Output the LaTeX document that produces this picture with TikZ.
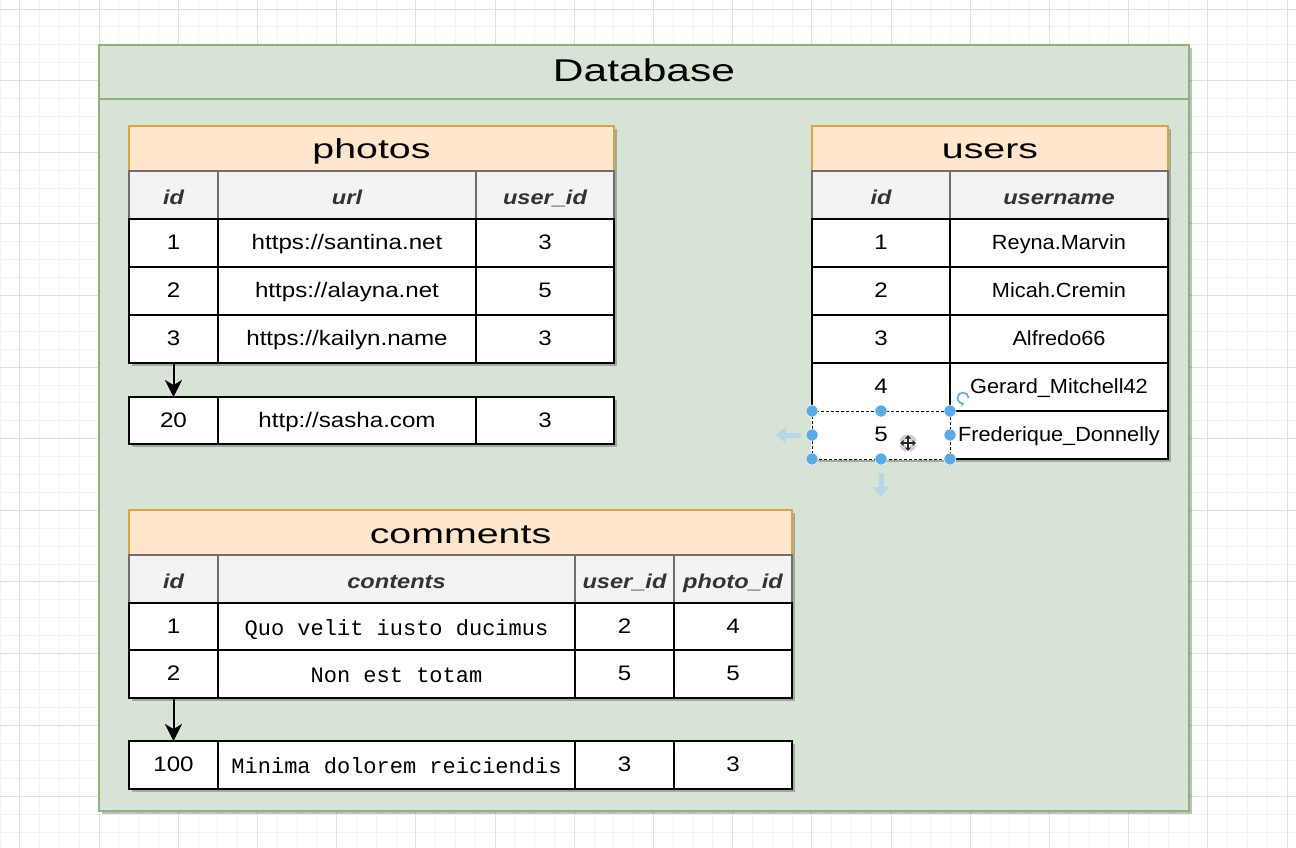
\documentclass[tikz,border=0pt]{standalone}
\usepackage{fontspec}
\setmainfont{Liberation Sans}
\newfontfamily\monof{Liberation Mono}
\usetikzlibrary{arrows.meta}
\definecolor{gridmin}{HTML}{F2F2F2}
\definecolor{gridmaj}{HTML}{E0E0E0}
\definecolor{dbfill}{HTML}{D7E4D5}
\definecolor{dbline}{HTML}{8DB37A}
\definecolor{ttlfill}{HTML}{FFE6CC}
\definecolor{ttlline}{HTML}{D9A441}
\definecolor{hdrfill}{HTML}{F3F3F3}
\definecolor{hdrline}{HTML}{6E6E6E}
\definecolor{selblue}{HTML}{5AAAE6}
\definecolor{paleblue}{HTML}{B9D5E8}
\newcommand\DBT[1]{{\fontsize{31.5}{36}\selectfont\scalebox{1.35}[1]{#1}}}
\newcommand\TT[1]{{\fontsize{27.5}{32}\selectfont\scalebox{1.43}[1]{#1}}}
\newcommand\HD[1]{{\fontsize{20}{24}\selectfont\bfseries\itshape\scalebox{1.18}[1]{#1}}}
\newcommand\DT[1]{{\fontsize{21}{24}\selectfont\scalebox{1.15}[1]{#1}}}
\newcommand\DU[1]{{\fontsize{20.5}{24}\selectfont\scalebox{1.06}[1]{#1}}}
\newcommand\MT[1]{{\monof\fontsize{22}{26}\selectfont #1}}
\newcommand\cellbox[7]{\node[#6, anchor=north west, minimum width={(#4)-(#2)}, minimum height={(#5)-(#3)}] (#1) at (#2,#3) {#7};}
\newcommand\shadowbox[4]{\fill[shad] (#1+3,#2+3) rectangle (#3+3,#4+3);}
\tikzset{
  tbl/.style={rectangle, inner sep=0pt, outer sep=0pt, text depth=0pt},
  dbbox/.style={tbl, draw=dbline, fill=dbfill, line width=1.8pt},
  ttl/.style={tbl, draw=ttlline, fill=ttlfill, line width=1.5pt, text height=21pt},
  hdr/.style={tbl, draw=hdrline, fill=hdrfill, line width=1.5pt, text=black!80, text height=18.6pt},
  dat/.style={tbl, draw=black, fill=white, line width=1.8pt, text height=13pt},
  datm/.style={dat, text height=17pt},
  shad/.style={fill=black, opacity=0.25},
  conn/.style={draw=black, line width=2pt, -{Stealth[length=17pt,width=17pt,inset=5pt]}},
  gmin/.style={draw=gridmin, line width=0.8pt},
  gmaj/.style={draw=gridmaj, line width=0.9pt},
  handle/.style={circle, fill=selblue, draw=white, line width=0.5pt, minimum size=12pt, inner sep=0pt},
  pale/.style={draw=paleblue, line width=5pt, -{Triangle[length=10pt,width=16pt]}}
}
\begin{document}
\begin{tikzpicture}[x=1pt,y=-1pt]
\useasboundingbox (0,0) rectangle (1296,848);
\fill[white] (0,0) rectangle (1296,848);
% grid
\foreach \i in {0,...,66} \draw[gmin] (\i*19.8,0) -- (\i*19.8,848);
\foreach \k in {0,...,47} \draw[gmin] (0,9+\k*17.9) -- (1296,9+\k*17.9);
\foreach \i in {0,...,16} \draw[gmaj] (19.8+\i*79.2,0) -- (19.8+\i*79.2,848);
\foreach \k in {0,...,11} \draw[gmaj] (0,9+\k*71.6) -- (1296,9+\k*71.6);
% container
\shadowbox{99}{45}{1189}{811}
\cellbox{dbbody}{99}{99}{1189}{811}{dbbox}{}
\cellbox{dbtitle}{99}{45}{1189}{99}{dbbox, text height=19.4pt}{\DBT{Database}}
% photos
\shadowbox{129}{126}{614}{363}
\shadowbox{129}{397}{614}{444}
\cellbox{pt}{129}{126}{614}{171}{ttl}{\TT{photos}}
\cellbox{ph1}{129}{171}{218}{219}{hdr}{\HD{id}}
\cellbox{ph2}{218}{171}{476}{219}{hdr}{\HD{url}}
\cellbox{ph3}{476}{171}{614}{219}{hdr}{\HD{user\_id}}
\cellbox{p11}{129}{219}{218}{267}{dat}{\DT{1}}
\cellbox{p12}{218}{219}{476}{267}{dat}{\DT{https://santina.net}}
\cellbox{p13}{476}{219}{614}{267}{dat}{\DT{3}}
\cellbox{p21}{129}{267}{218}{315}{dat}{\DT{2}}
\cellbox{p22}{218}{267}{476}{315}{dat}{\DT{https://alayna.net}}
\cellbox{p23}{476}{267}{614}{315}{dat}{\DT{5}}
\cellbox{p31}{129}{315}{218}{363}{dat}{\DT{3}}
\cellbox{p32}{218}{315}{476}{363}{dat}{\DT{https://kailyn.name}}
\cellbox{p33}{476}{315}{614}{363}{dat}{\DT{3}}
\cellbox{p41}{129}{397}{218}{444}{dat}{\DT{20}}
\cellbox{p42}{218}{397}{476}{444}{dat}{\DT{http://sasha.com}}
\cellbox{p43}{476}{397}{614}{444}{dat}{\DT{3}}
\draw[conn] (p31.south) -- (p41.north);
% users
\shadowbox{812}{126}{1168}{459}
\cellbox{ut}{812}{126}{1168}{171}{ttl}{\TT{users}}
\cellbox{uh1}{812}{171}{950}{219}{hdr}{\HD{id}}
\cellbox{uh2}{950}{171}{1168}{219}{hdr}{\HD{username}}
\cellbox{u11}{812}{219}{950}{267}{dat}{\DT{1}}
\cellbox{u12}{950}{219}{1168}{267}{dat}{\DU{Reyna.Marvin}}
\cellbox{u21}{812}{267}{950}{315}{dat}{\DT{2}}
\cellbox{u22}{950}{267}{1168}{315}{dat}{\DU{Micah.Cremin}}
\cellbox{u31}{812}{315}{950}{363}{dat}{\DT{3}}
\cellbox{u32}{950}{315}{1168}{363}{dat}{\DU{Alfredo66}}
\cellbox{u41}{812}{363}{950}{411}{dat}{\DT{4}}
\cellbox{u42}{950}{363}{1168}{411}{dat}{\DU{Gerard\_Mitchell42}}
\cellbox{u51}{812}{411}{950}{459}{dat}{\DT{5}}
\cellbox{u52}{950}{411}{1168}{459}{dat}{\DU{Frederique\_Donnelly}}
% comments
\shadowbox{129}{510}{792}{698}
\shadowbox{129}{741}{792}{789}
\cellbox{ct}{129}{510}{792}{555}{ttl}{\TT{comments}}
\cellbox{ch1}{129}{555}{218}{603}{hdr}{\HD{id}}
\cellbox{ch2}{218}{555}{575}{603}{hdr}{\HD{contents}}
\cellbox{ch3}{575}{555}{674}{603}{hdr}{\HD{user\_id}}
\cellbox{ch4}{674}{555}{792}{603}{hdr}{\HD{photo\_id}}
\cellbox{c11}{129}{603}{218}{650}{dat}{\DT{1}}
\cellbox{c12}{218}{603}{575}{650}{datm}{\MT{Quo velit iusto ducimus}}
\cellbox{c13}{575}{603}{674}{650}{dat}{\DT{2}}
\cellbox{c14}{674}{603}{792}{650}{dat}{\DT{4}}
\cellbox{c21}{129}{650}{218}{698}{dat}{\DT{2}}
\cellbox{c22}{218}{650}{575}{698}{datm}{\MT{Non est totam}}
\cellbox{c23}{575}{650}{674}{698}{dat}{\DT{5}}
\cellbox{c24}{674}{650}{792}{698}{dat}{\DT{5}}
\cellbox{c41}{129}{741}{218}{789}{dat}{\DT{100}}
\cellbox{c42}{218}{741}{575}{789}{datm}{\MT{Minima dolorem reiciendis}}
\cellbox{c43}{575}{741}{674}{789}{dat}{\DT{3}}
\cellbox{c44}{674}{741}{792}{789}{dat}{\DT{3}}
\draw[conn] (c21.south) -- (c41.north);
% selection overlay on users id 5
\draw[white, line width=2pt] (u51.north west) rectangle (u51.south east);
\draw[black, line width=1pt, dash pattern=on 3pt off 2pt] (u51.north west) rectangle (u51.south east);
\foreach \a/\n in {north west/h1, north/h2, north east/h3, west/h4, east/h5, south west/h6, south/h7, south east/h8}
  \node[handle] (\n) at (u51.\a) {};
\coordinate (la0) at (801,435);
\coordinate (la1) at (776,435);
\coordinate (da0) at (881,473);
\coordinate (da1) at (881,497);
\draw[pale] (la0) -- (la1);
\draw[pale] (da0) -- (da1);
% rotate icon
\coordinate (rot) at (963,398);
\draw[selblue, line width=1.6pt, -{Stealth[length=4pt,width=5pt]}] ([xshift=5.5pt]rot) arc[start angle=0, end angle=285, radius=5.5pt];
% move cursor
\coordinate (mv) at (908,443);
\fill[black, opacity=0.18] (mv) circle[radius=9pt];
\draw[white, line width=3.5pt] ([xshift=-9pt]mv) -- ([xshift=9pt]mv) ([yshift=-9pt]mv) -- ([yshift=9pt]mv);
\draw[black!85, line width=1.5pt, {Triangle[length=3.5pt,width=6pt]}-{Triangle[length=3.5pt,width=6pt]}] ([xshift=-8pt]mv) -- ([xshift=8pt]mv);
\draw[black!85, line width=1.5pt, {Triangle[length=3.5pt,width=6pt]}-{Triangle[length=3.5pt,width=6pt]}] ([yshift=-8pt]mv) -- ([yshift=8pt]mv);
\end{tikzpicture}
\end{document}
